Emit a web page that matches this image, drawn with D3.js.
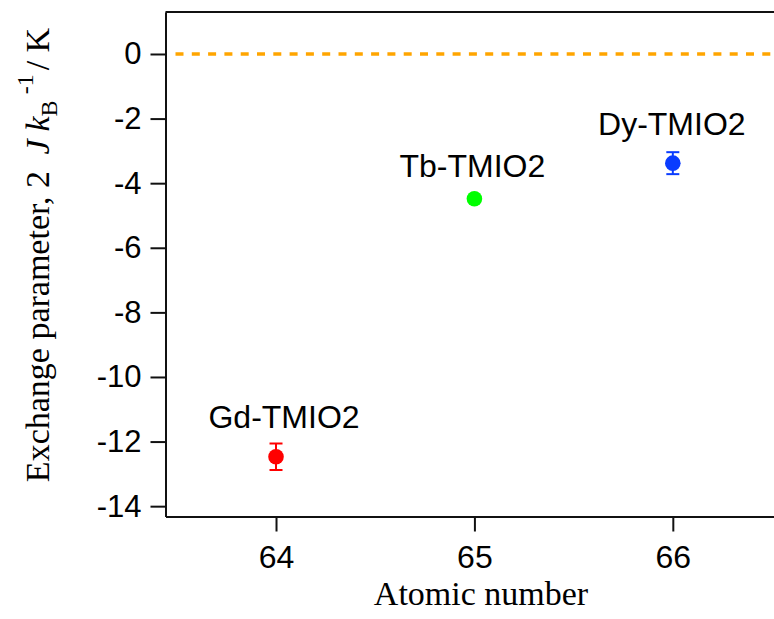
<!DOCTYPE html>
<html>
<head>
<meta charset="utf-8">
<script src="https://cdn.jsdelivr.net/npm/d3@7"></script>
<style>
  html, body { margin: 0; padding: 0; background: #fff; }
  svg { display: block; }
</style>
</head>
<body>
<svg id="chart" width="774" height="619"></svg>
<script>
// Exchange parameter of the lanthanide TMIO2 complexes vs. atomic number
const compounds   = ["Gd-TMIO2", "Tb-TMIO2", "Dy-TMIO2"];
const atomicNums  = [64, 65, 66];
const exchangeJ   = [-12.47, -4.48, -3.38];
const errors      = [0.41, 0, 0.34];
const colors      = ["#ff0000", "#00ff00", "#0a3cff"];
const xTicks      = [64, 65, 66];
const yTicks      = [0, -2, -4, -6, -8, -10, -12, -14];
const referenceY  = 0;

// label placement relative to each marker (px)
const labelOffsets = [[8, -29], [-2, -22], [-1, -28]];

(function draw() {
  const svg = d3.select("#chart");
  const plotLeft = 165.5, plotRight = 774, plotTop = 12, plotBottom = 516.5;

  const x = d3.scaleLinear().domain([63.443, 66.51]).range([plotLeft, plotRight]);
  const y = d3.scaleLinear().domain([1.30, -14.32]).range([plotTop, plotBottom]);

  const sans = "'Liberation Sans', Arial, sans-serif";
  const serif = "'Liberation Serif', 'Times New Roman', serif";
  const plain = d => String(d);   // keep ASCII hyphen for negatives

  // reference line at zero
  svg.append("line")
    .attr("x1", plotLeft + 10).attr("x2", plotRight)
    .attr("y1", y(referenceY)).attr("y2", y(referenceY))
    .attr("stroke", "#ffa500").attr("stroke-width", 3.5)
    .attr("stroke-dasharray", "8 8.3");

  // axes
  const yAxis = svg.append("g")
    .attr("transform", `translate(${plotLeft},0)`)
    .call(d3.axisLeft(y).tickValues(yTicks).tickFormat(plain)
      .tickSize(15).tickPadding(9).tickSizeOuter(0));
  const xAxis = svg.append("g")
    .attr("transform", `translate(0,${plotBottom})`)
    .call(d3.axisBottom(x).tickValues(xTicks).tickFormat(plain)
      .tickSize(15).tickPadding(14).tickSizeOuter(0));

  [yAxis, xAxis].forEach(g => {
    g.select(".domain").attr("stroke", "#111").attr("stroke-width", 2);
    g.selectAll(".tick line").attr("stroke", "#111").attr("stroke-width", 2);
    g.selectAll(".tick text").attr("fill", "#000").attr("font-family", sans);
  });
  yAxis.selectAll(".tick text").attr("font-size", 31);
  xAxis.selectAll(".tick text").attr("font-size", 32);

  // top frame edge
  svg.append("line")
    .attr("x1", plotLeft).attr("x2", plotRight).attr("y1", plotTop).attr("y2", plotTop)
    .attr("stroke", "#111").attr("stroke-width", 2);

  // axis titles
  svg.append("text")
    .attr("x", 481).attr("y", 605)
    .attr("text-anchor", "middle")
    .attr("font-family", serif).attr("font-size", 34)
    .text("Atomic number");

  const yt = svg.append("text")
    .attr("transform", "translate(48.5,255) rotate(-90)")
    .attr("text-anchor", "middle")
    .attr("font-family", serif).attr("font-size", 34)
    .attr("xml:space", "preserve");
  yt.append("tspan").text("Exchange parameter, 2 ");
  yt.append("tspan").attr("dx", 8).attr("font-style", "italic").text("J");
  yt.append("tspan").attr("dx", 8).attr("font-style", "italic").text("k");
  yt.append("tspan").attr("font-size", 24).attr("dy", 8).text("B");
  yt.append("tspan").attr("font-size", 24).attr("dy", -24).attr("dx", 6).text("-1");
  yt.append("tspan").attr("dy", 16).attr("dx", 4).text("/ K");

  // data
  const data = compounds.map((name, i) => ({
    name, z: atomicNums[i], j: exchangeJ[i], err: errors[i], color: colors[i], off: labelOffsets[i]
  }));

  const pts = svg.append("g").selectAll("g").data(data).join("g");

  const withErr = pts.filter(d => d.err > 0);
  withErr.append("line")
    .attr("x1", d => x(d.z)).attr("x2", d => x(d.z))
    .attr("y1", d => y(d.j - d.err)).attr("y2", d => y(d.j + d.err))
    .attr("stroke", d => d.color).attr("stroke-width", 2);
  [-1, 1].forEach(s => {
    withErr.append("line")
      .attr("x1", d => x(d.z) - 6.5).attr("x2", d => x(d.z) + 6.5)
      .attr("y1", d => y(d.j + s * d.err)).attr("y2", d => y(d.j + s * d.err))
      .attr("stroke", d => d.color).attr("stroke-width", 2);
  });

  pts.append("circle")
    .attr("cx", d => x(d.z)).attr("cy", d => y(d.j))
    .attr("r", 7.8)
    .attr("fill", d => d.color);

  pts.append("text")
    .attr("x", d => x(d.z) + d.off[0])
    .attr("y", d => y(d.j) + d.off[1])
    .attr("text-anchor", "middle")
    .attr("font-family", sans).attr("font-size", 32)
    .attr("fill", "#000")
    .text(d => d.name);
})();
</script>
</body>
</html>
